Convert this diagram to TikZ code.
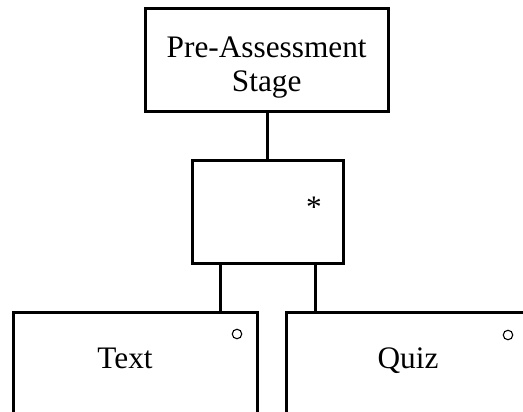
\documentclass[tikz,border=0pt]{standalone}
\usepackage{fontspec}
\setmainfont{Liberation Serif}
\begin{document}
\begin{tikzpicture}[x=1pt,y=-1pt,
  stagebox/.style={draw, line width=3pt, rectangle, inner sep=0pt, outer sep=0pt},
  link/.style={line width=3pt},
  label/.style={inner sep=0pt, font=\fontsize{31.3}{34}\selectfont},
  marker/.style={draw, circle, line width=1.1pt, inner sep=0pt, minimum size=9.5pt}]
\useasboundingbox (0,0) rectangle (523,412);
\clip (0,0) rectangle (523,412);

% stage boxes
\node[stagebox, minimum width=243pt, minimum height=103pt] (pre) at (266.7,60.3) {};
\node[stagebox, minimum width=151pt, minimum height=103.3pt] (seq) at (267.8,211.7) {};
\node[stagebox, minimum width=244.7pt, minimum height=150pt, anchor=north west] (text) at (13,312.3) {};
\node[stagebox, minimum width=244.7pt, minimum height=150pt, anchor=north west] (quiz) at (286.7,312.3) {};

% labels and markers
\node[label, align=center] (pretitle) at (266.7,67.5) {Pre-Assessment\\Stage};
\node[label, anchor=base] (rep) at (314,217) {*};
\node[label, anchor=base] (textlbl) at (125,368) {Text};
\node[label, anchor=base] (quizlbl) at (408,368) {Quiz};
\node[marker] (textopt) at (237,334) {};
\node[marker] (quizopt) at (508,335) {};

% connectors
\coordinate (lx) at (220,0);
\coordinate (rx) at (315,0);
\draw[link] (seq.north) -- (seq.north |- pre.south);
\draw[link] (seq.south -| lx) -- (text.north -| lx);
\draw[link] (seq.south -| rx) -- (quiz.north -| rx);
\end{tikzpicture}
\end{document}
